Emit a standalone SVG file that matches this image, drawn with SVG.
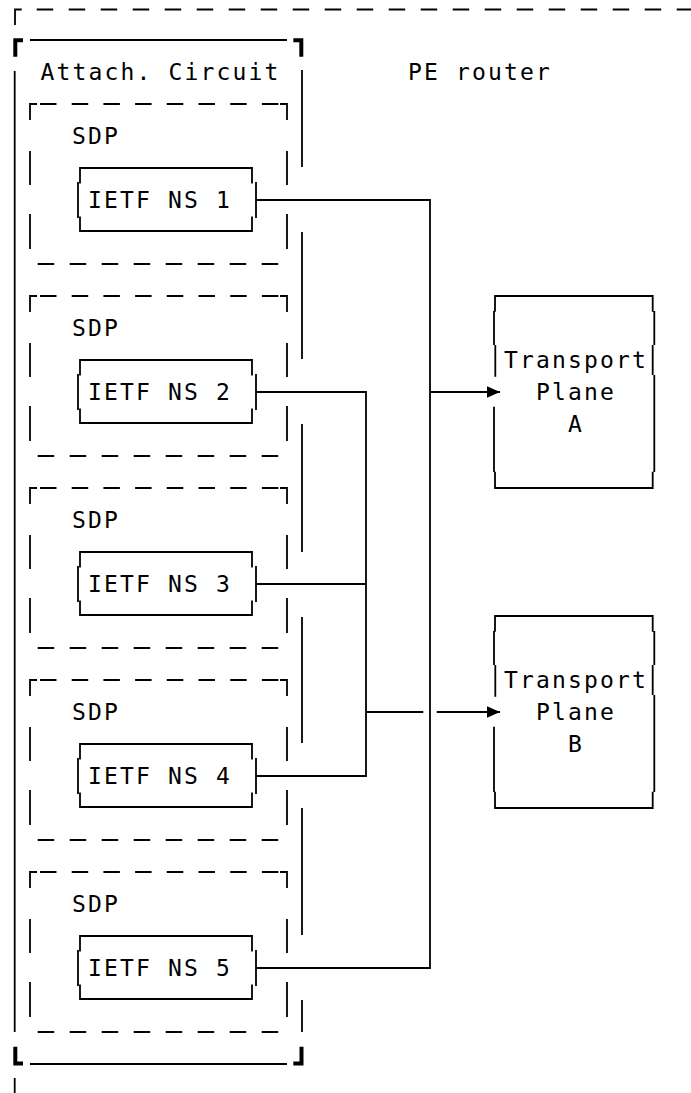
<svg xmlns="http://www.w3.org/2000/svg" width="691" height="1093" viewBox="0 0 691 1093">
  <style>
    .thin { fill: none; stroke: #000; stroke-width: 1.8; stroke-linecap: butt; stroke-linejoin: miter; }
    .bold { fill: none; stroke: #000; stroke-width: 4; stroke-linecap: butt; stroke-linejoin: miter; }
    .dash-top { fill: none; stroke: #000; stroke-width: 1.8; stroke-dasharray: 16.5 15.2; }
    .dash-bot { fill: none; stroke: #000; stroke-width: 1.8; stroke-dasharray: 16.5 15.5; }
    .dash-pe { fill: none; stroke: #000; stroke-width: 1.8; stroke-dasharray: 16.5 15.5; }
    text { font-family: "DejaVu Sans Mono", "Liberation Mono", monospace; font-size: 23px; letter-spacing: 2.15px; fill: #000; }
  </style>
  <defs>
    <marker id="arrow" markerUnits="userSpaceOnUse" markerWidth="14" markerHeight="12" viewBox="0 0 14 12" refX="13" refY="5.75" orient="auto">
      <path d="M0,0 L13,5.75 L0,11.5 z" fill="#000"/>
    </marker>
  </defs>
  <rect width="691" height="1093" fill="#fff"/>

  <g id="pe-router">
    <path class="thin" d="M21.7,9.5 H15 V25 M14.7,1078 V1110"/>
    <path class="dash-pe" d="M36.7,9.5 H700"/>
    <text x="408" y="80">PE router</text>
  </g>

  <g id="attach-circuit">
    <path class="bold" d="M23,40.3 H15.3 V56.7 M293.3,40.3 H301.3 V56.7 M15.3,1046.7 V1063.5 H23 M293.3,1063.5 H301.5 V1046.7"/>
    <path class="thin" d="M30,40 H287 M30,1064 H287 M14.7,71 V1032 M302,70 V167 M302,232 V359 M302,424 V552 M302,617 V743 M302,808 V935 M302,1000 V1032"/>
    <text x="40.5" y="80">Attach. Circuit</text>
  </g>

  <g id="sdp-1">
    <path class="thin" d="M37,104 H30 V120 M280,104 H287 V120 M30,151 V185 M30,214 V249 M287,151 V185 M287,214 V249"/>
    <path class="dash-top" d="M40,104 H278.5"/>
    <path class="dash-bot" d="M37.7,264 H278.5"/>
    <text x="72" y="144">SDP</text>
  </g>
  <g id="sdp-2" transform="translate(0,192)">
    <path class="thin" d="M37,104 H30 V120 M280,104 H287 V120 M30,151 V185 M30,214 V249 M287,151 V185 M287,214 V249"/>
    <path class="dash-top" d="M40,104 H278.5"/>
    <path class="dash-bot" d="M37.7,264 H278.5"/>
    <text x="72" y="144">SDP</text>
  </g>
  <g id="sdp-3" transform="translate(0,384)">
    <path class="thin" d="M37,104 H30 V120 M280,104 H287 V120 M30,151 V185 M30,214 V249 M287,151 V185 M287,214 V249"/>
    <path class="dash-top" d="M40,104 H278.5"/>
    <path class="dash-bot" d="M37.7,264 H278.5"/>
    <text x="72" y="144">SDP</text>
  </g>
  <g id="sdp-4" transform="translate(0,576)">
    <path class="thin" d="M37,104 H30 V120 M280,104 H287 V120 M30,151 V185 M30,214 V249 M287,151 V185 M287,214 V249"/>
    <path class="dash-top" d="M40,104 H278.5"/>
    <path class="dash-bot" d="M37.7,264 H278.5"/>
    <text x="72" y="144">SDP</text>
  </g>
  <g id="sdp-5" transform="translate(0,768)">
    <path class="thin" d="M37,104 H30 V120 M280,104 H287 V120 M30,151 V185 M30,214 V249 M287,151 V185 M287,214 V249"/>
    <path class="dash-top" d="M40,104 H278.5"/>
    <path class="dash-bot" d="M37.7,264 H278.5"/>
    <text x="72" y="144">SDP</text>
  </g>

  <g id="ns-1">
    <path class="thin" d="M80,183.5 V168 H252 V183.5 M78,182 V218 M80,216.5 V231 H252 V216.5 M256,182 V218"/>
    <text x="88" y="208">IETF NS 1</text>
  </g>
  <g id="ns-2" transform="translate(0,192)">
    <path class="thin" d="M80,183.5 V168 H252 V183.5 M78,182 V218 M80,216.5 V231 H252 V216.5 M256,182 V218"/>
    <text x="88" y="208">IETF NS 2</text>
  </g>
  <g id="ns-3" transform="translate(0,384)">
    <path class="thin" d="M80,183.5 V168 H252 V183.5 M78,182 V218 M80,216.5 V231 H252 V216.5 M256,182 V218"/>
    <text x="88" y="208">IETF NS 3</text>
  </g>
  <g id="ns-4" transform="translate(0,576)">
    <path class="thin" d="M80,183.5 V168 H252 V183.5 M78,182 V218 M80,216.5 V231 H252 V216.5 M256,182 V218"/>
    <text x="88" y="208">IETF NS 4</text>
  </g>
  <g id="ns-5" transform="translate(0,768)">
    <path class="thin" d="M80,183.5 V168 H252 V183.5 M78,182 V218 M80,216.5 V231 H252 V216.5 M256,182 V218"/>
    <text x="88" y="208">IETF NS 5</text>
  </g>

  <g id="transport-a">
    <path class="thin" d="M495,311.7 V296 H652.7 V311.7 M494,311 V345 M495.3,345 V376.7 M494,406.7 V472 M495,471.7 V488 H652.7 V471.7 M654.3,311 V345 M652.7,345 V375 M654.3,375 V472"/>
    <text x="504" y="368">Transport</text>
    <text x="536" y="400">Plane</text>
    <text x="568" y="432">A</text>
  </g>
  <g id="transport-b">
    <path class="thin" d="M495,631.7 V616 H652.7 V631.7 M494,631 V665 M495.3,665 V696.7 M494,726.7 V792 M495,791.7 V808 H652.7 V791.7 M654.3,631 V665 M652.7,665 V695 M654.3,695 V792"/>
    <text x="504" y="688">Transport</text>
    <text x="536" y="720">Plane</text>
    <text x="568" y="752">B</text>
  </g>

  <g id="connectors">
    <path class="thin" d="M256,200 H430 V968 H256"/>
    <path class="thin" d="M430,392 H500" marker-end="url(#arrow)"/>
    <path class="thin" d="M256,392 H366 V776 H256"/>
    <path class="thin" d="M256,584 H366"/>
    <path class="thin" d="M366,712 H423.3"/>
    <path class="thin" d="M436.7,712 H500" marker-end="url(#arrow)"/>
  </g>
</svg>
